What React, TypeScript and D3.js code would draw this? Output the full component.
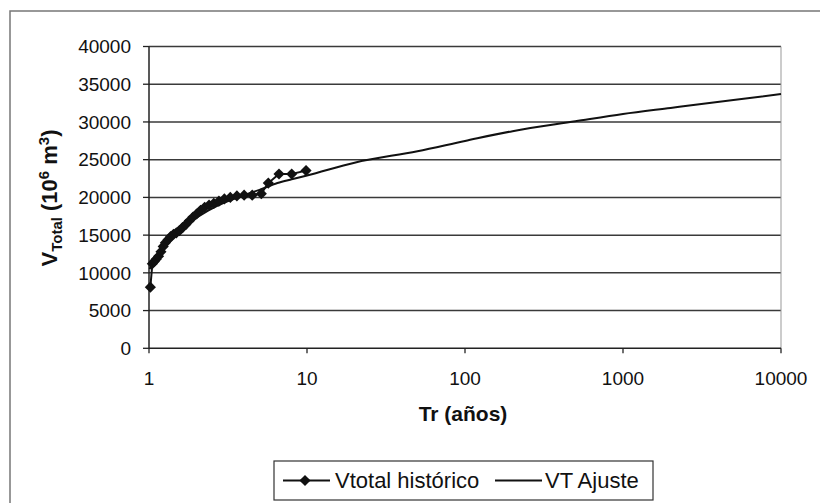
import * as d3 from 'd3'

// historical series (Tr in years, volume in 10^6 m3)
const TR_HIST = [1.02, 1.05, 1.08, 1.11, 1.15, 1.19, 1.23, 1.27, 1.32, 1.37, 1.43, 1.49, 1.56, 1.63, 1.71, 1.8, 1.9, 2.0, 2.12, 2.25, 2.4, 2.57, 2.77, 3.0, 3.27, 3.6, 4.0, 4.5, 5.14, 5.69, 6.65, 8.0, 9.86]
const V_HIST = [8100, 11200, 11500, 11800, 12200, 12800, 13500, 14000, 14400, 14800, 15100, 15300, 15600, 16000, 16400, 16900, 17400, 17800, 18300, 18700, 19000, 19200, 19500, 19800, 20000, 20200, 20300, 20300, 20500, 21900, 23100, 23100, 23550]

// fitted curve
const TR_FIT = [1.01, 1.05, 1.1, 1.2, 1.3, 1.5, 1.75, 2, 2.5, 3, 4, 5, 6.5, 8, 10, 20, 50, 100, 200, 500, 1000, 2000, 5000, 10000]
const V_FIT = [10500, 11300, 12000, 13200, 14100, 15300, 16500, 17300, 18500, 19300, 20300, 21000, 21900, 22400, 22900, 24600, 26130, 27480, 28780, 30080, 31050, 31860, 32920, 33700]

const Y_TICKS = [0, 5000, 10000, 15000, 20000, 25000, 30000, 35000, 40000]
const X_TICKS = [1, 10, 100, 1000, 10000]

const FONT = 'Liberation Sans, Arial, sans-serif'

export default function App() {
  const width = 820
  const height = 503
  const left = 149
  const right = 781
  const top = 46.5
  const bottom = 348.3

  const x = d3.scaleLog().domain([1, 10000]).range([left, right])
  const y = d3.scaleLinear().domain([0, 40000]).range([bottom, top])

  const hist = TR_HIST.map((t, i) => ({ t, v: V_HIST[i] }))
  const fit = TR_FIT.map((t, i) => ({ t, v: V_FIT[i] }))

  const line = d3.line<{ t: number; v: number }>()
    .x(d => x(d.t))
    .y(d => y(d.v))
  const smooth = d3.line<{ t: number; v: number }>()
    .x(d => x(d.t))
    .y(d => y(d.v))
    .curve(d3.curveMonotoneX)

  const diamond = d3.symbol().type(d3.symbolSquare).size(62)()

  return (
    <svg width={width} height={height} style={{ position: 'absolute', left: 0, top: 0, background: '#fff' }} fontFamily={FONT}>
      {/* outer frame */}
      <rect x={10} y={11} width={840} height={520} fill="none" stroke="#777" strokeWidth={1.5} />

      {/* gridlines */}
      {Y_TICKS.slice(1).map(t => (
        <line key={t} x1={left} x2={right} y1={y(t)} y2={y(t)} stroke="#3a3a3a" strokeWidth={1.5} />
      ))}
      <line x1={right} x2={right} y1={top} y2={bottom} stroke="#999" strokeWidth={1} />

      {/* axes */}
      <line x1={left} x2={left} y1={top} y2={bottom} stroke="#222" strokeWidth={1.5} />
      <line x1={left} x2={right} y1={bottom} y2={bottom} stroke="#222" strokeWidth={1.5} />

      {Y_TICKS.map(t => (
        <g key={t}>
          <line x1={left - 6} x2={left} y1={y(t)} y2={y(t)} stroke="#222" strokeWidth={1.3} />
          <text x={131} y={y(t)} dy="0.35em" textAnchor="end" fontSize={19} fill="#111">{t}</text>
        </g>
      ))}

      {X_TICKS.map(t => (
        <g key={t}>
          <line x1={x(t)} x2={x(t)} y1={bottom} y2={bottom + 5} stroke="#222" strokeWidth={1.3} />
          <text x={x(t)} y={385} textAnchor="middle" fontSize={19} fill="#111">{t}</text>
        </g>
      ))}

      {/* axis titles */}
      <text x={463} y={421} textAnchor="middle" fontSize={21} fontWeight="bold" fill="#111">Tr (años)</text>
      <text transform="translate(57,198) rotate(-90)" textAnchor="middle" fontSize={22} fontWeight="bold" fill="#111">
        V<tspan fontSize={15} dy={5}>Total</tspan>
        <tspan dy={-5}> (10</tspan>
        <tspan fontSize={15} dy={-8}>6</tspan>
        <tspan dy={8}> m</tspan>
        <tspan fontSize={15} dy={-8}>3</tspan>
        <tspan dy={8}>)</tspan>
      </text>

      {/* fit curve */}
      <path d={smooth(fit) ?? ''} fill="none" stroke="#111" strokeWidth={2} />

      {/* historical */}
      <path d={line(hist) ?? ''} fill="none" stroke="#111" strokeWidth={2} />
      {hist.map((d, i) => (
        <path key={i} d={diamond ?? ''} transform={`translate(${x(d.t)},${y(d.v)}) rotate(45)`} fill="#111" />
      ))}

      {/* legend */}
      <rect x={274} y={461} width={379} height={39} fill="#fff" stroke="#333" strokeWidth={1.2} />
      <line x1={283} x2={330} y1={480.5} y2={480.5} stroke="#111" strokeWidth={2} />
      <path d={diamond ?? ''} transform="translate(305,480.5) rotate(45)" fill="#111" />
      <text x={335} y={480.5} dy="0.35em" fontSize={22} fill="#111">Vtotal histórico</text>
      <line x1={495} x2={542} y1={480.5} y2={480.5} stroke="#111" strokeWidth={2} />
      <text x={545} y={480.5} dy="0.35em" fontSize={22} fill="#111">VT Ajuste</text>
    </svg>
  )
}
